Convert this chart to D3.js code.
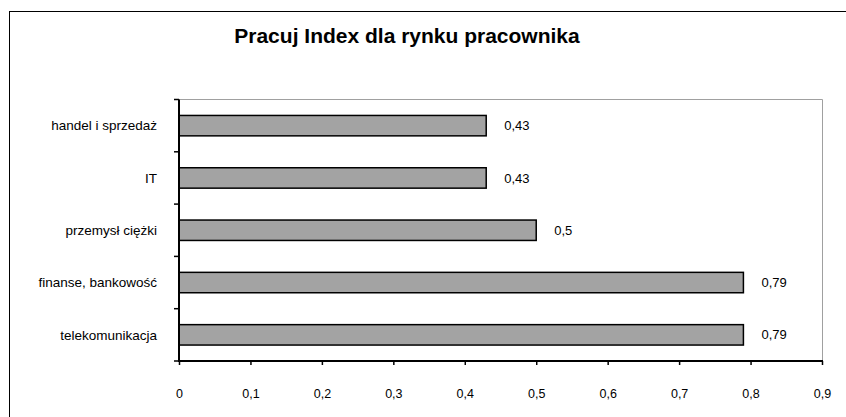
<!DOCTYPE html>
<html>
<head>
<meta charset="utf-8">
<script src="https://cdn.jsdelivr.net/npm/d3@7"></script>
<style>
  body { margin: 0; background: #fff; }
  text { font-family: "Liberation Sans", Arial, sans-serif; fill: #000; }
</style>
</head>
<body>
<div id="chart"></div>
<script>
var categories = ["handel i sprzedaż", "IT", "przemysł ciężki", "finanse, bankowość", "telekomunikacja"];
var values = [0.43, 0.43, 0.5, 0.79, 0.79];
var xTicks = [0, 0.1, 0.2, 0.3, 0.4, 0.5, 0.6, 0.7, 0.8, 0.9];
var title = "Pracuj Index dla rynku pracownika";

var width = 846, height = 417;
var plotLeft = 179, plotRight = 822, plotTop = 99.5, plotBottom = 361;

var svg = d3.select("#chart")
    .append("svg")
    .attr("width", width)
    .attr("height", height);

// outer frame of the chart object
svg.append("rect")
   .attr("x", 9.5)
   .attr("y", 11.5)
   .attr("width", 900)
   .attr("height", 500)
   .style("fill", "none")
   .style("stroke", "#000")
   .style("stroke-width", 1);

svg.append("text")
   .attr("x", 407)
   .attr("y", 43)
   .attr("text-anchor", "middle")
   .style("font-size", "21px")
   .style("font-weight", "bold")
   .text(title);

var x = d3.scaleLinear().domain([0, 0.9]).range([plotLeft, plotRight]);
var y = d3.scaleBand().domain(categories).range([plotTop, plotBottom])
          .paddingInner(0.61).paddingOuter(0.305);

// plot area border (top and right, gray)
svg.append("path")
   .attr("d", d3.line()([[plotLeft, plotTop], [plotRight + 0.5, plotTop], [plotRight + 0.5, plotBottom]]))
   .style("fill", "none")
   .style("stroke", "#a0a0a0")
   .style("stroke-width", 1);

svg.selectAll("rect.bar")
   .data(values)
   .enter()
   .append("rect")
   .attr("class", "bar")
   .attr("x", x(0))
   .attr("y", function (d, i) { return y(categories[i]); })
   .attr("width", function (d) { return x(d) - x(0); })
   .attr("height", y.bandwidth())
   .style("fill", "#a3a3a3")
   .style("stroke", "#000")
   .style("stroke-width", 1.5);

svg.selectAll("text.val")
   .data(values)
   .enter()
   .append("text")
   .attr("class", "val")
   .attr("x", function (d) { return x(d) + 18; })
   .attr("y", function (d, i) { return y(categories[i]) + y.bandwidth() / 2; })
   .attr("dy", "0.35em")
   .style("font-size", "13px")
   .text(function (d) { return String(d).replace(".", ","); });

// category labels
svg.selectAll("text.cat")
   .data(categories)
   .enter()
   .append("text")
   .attr("class", "cat")
   .attr("x", 157)
   .attr("y", function (d) { return y(d) + y.bandwidth() / 2; })
   .attr("dy", "0.35em")
   .attr("text-anchor", "end")
   .style("font-size", "13.5px")
   .text(function (d) { return d; });

// y axis: line + ticks at band boundaries
var bounds = d3.range(categories.length + 1).map(function (i) {
    return i == categories.length ? plotBottom : y(categories[i]) - y.step() * y.paddingInner() / 2;
});
svg.append("line")
   .attr("x1", plotLeft).attr("x2", plotLeft)
   .attr("y1", plotTop).attr("y2", plotBottom + 1)
   .style("stroke", "#000")
   .style("stroke-width", 2);
svg.selectAll("line.ytick")
   .data(bounds)
   .enter()
   .append("line")
   .attr("class", "ytick")
   .attr("x1", plotLeft - 5).attr("x2", plotLeft)
   .attr("y1", function (d) { return d; })
   .attr("y2", function (d) { return d; })
   .style("stroke", "#000")
   .style("stroke-width", 1.5);

// x axis
var xAxis = svg.append("g")
   .attr("transform", "translate(0," + plotBottom + ")")
   .call(d3.axisBottom(x)
        .tickValues(xTicks)
        .tickSize(4)
        .tickPadding(24)
        .tickFormat(function (d) { return d == 0 ? "0" : String(d).replace(".", ","); }));
xAxis.select(".domain").remove();
xAxis.selectAll(".tick line").style("stroke", "#000").style("stroke-width", 1.5);
xAxis.selectAll(".tick text")
   .style("font-size", "12.5px")
   .style("font-family", "'Liberation Sans', Arial, sans-serif");
svg.append("line")
   .attr("x1", plotLeft - 1).attr("x2", plotRight + 1)
   .attr("y1", plotBottom).attr("y2", plotBottom)
   .style("stroke", "#000")
   .style("stroke-width", 2);
</script>
</body>
</html>
